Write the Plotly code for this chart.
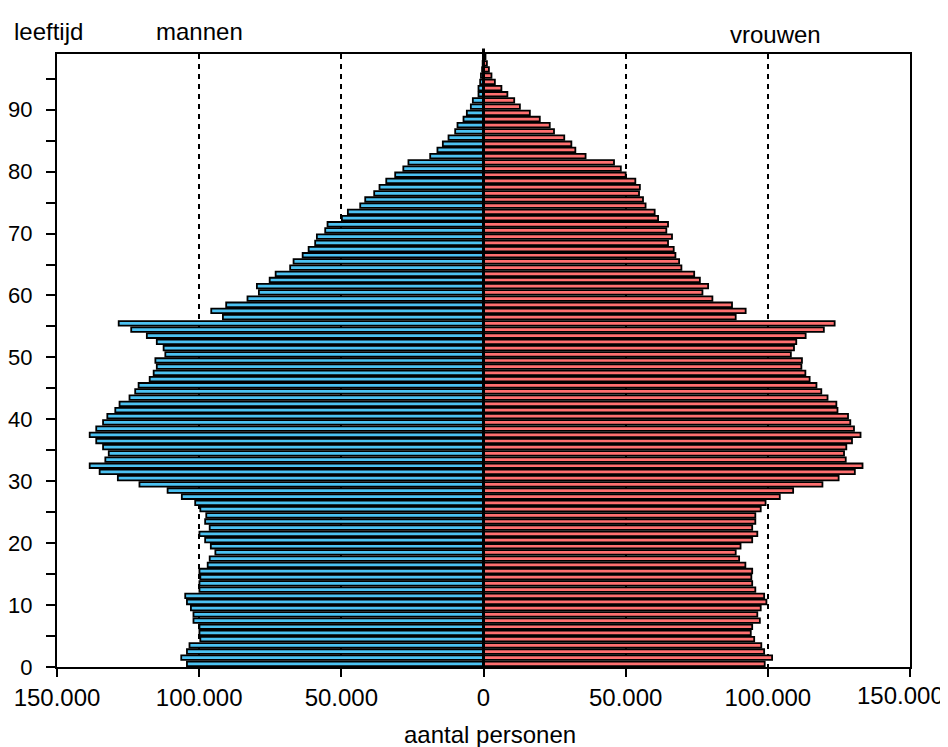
import plotly.graph_objects as go

# ---------------- data ----------------
ages = list(range(0, 99))

men = [104300, 106300, 104300, 103400, 99600, 99900, 99900, 102000, 102000, 102900,
       104300, 104900, 99900, 99900, 99600, 99900, 97000, 96300, 94300, 95900,
       97900, 99900, 96300, 97900, 97500, 99600, 101400, 106100, 111100, 121000,
       128600, 135000, 138500, 133000, 131800, 133800, 136200, 138500, 136200, 133800,
       132300, 129500, 128000, 124500, 122500, 121300, 117400, 116000, 114900, 115400,
       111900, 112500, 114900, 118400, 123900, 128300, 91650, 95750, 90500, 83000,
       79000, 79700, 75200, 73100, 68000, 66800, 63600, 61500, 59200, 58600,
       55670, 54850, 49800, 47700, 43360, 41600, 38440, 36570, 34200, 31060,
       28200, 26400, 18750, 16200, 14300, 12300, 9960, 9140, 7030, 5860,
       4450, 3750, 1760, 1760, 1170, 900, 500, 300, 150]

women = [98900, 101500, 98700, 97700, 95200, 94000, 94500, 97200, 96300, 97500,
         99500, 98700, 95600, 94500, 94200, 94500, 92100, 89900, 88700, 90400,
         94500, 96300, 94500, 95600, 95600, 97500, 99200, 104200, 108900, 119200,
         124900, 130600, 133300, 127400, 126800, 127600, 129600, 132600, 130300, 129000,
         128200, 124500, 124100, 121000, 118800, 117100, 114700, 113200, 111800, 112000,
         108100, 109200, 110000, 113300, 119700, 123500, 88700, 92200, 87400, 80500,
         77000, 79000, 76100, 74100, 69600, 68800, 67500, 66900, 64900, 66300,
         64300, 64900, 61400, 60200, 57000, 56100, 54700, 55000, 53400, 50000,
         48300, 45900, 35900, 32300, 30900, 28400, 24800, 23300, 19800, 16300,
         12800, 10800, 8400, 6300, 4000, 2800, 1900, 1200, 700]

x_tickvals = [-150000, -100000, -50000, 0, 50000, 100000, 150000]
x_ticktext = ["150.000", "100.000", "50.000", "0", "50.000", "100.000", ""]
right_end_label = "150.000"

BLUE = "#4CC2F2"
PINK = "#FF7070"
FONT = "Liberation Sans"

y_pos = [a + 0.5 for a in ages]

fig = go.Figure()
fig.add_trace(go.Bar(
    y=y_pos, x=[-v for v in men], orientation="h", name="mannen",
    marker=dict(color=BLUE, line=dict(color="black", width=1.8)),
))
fig.add_trace(go.Bar(
    y=y_pos, x=women, orientation="h", name="vrouwen",
    marker=dict(color=PINK, line=dict(color="black", width=1.8)),
))

# the page body adds an 8px offset, so the figure is 8px smaller on each axis
fig.update_layout(
    width=940, height=739,
    margin=dict(l=49, r=38, t=46, b=80, autoexpand=False),
    barmode="overlay", bargap=0.27,
    showlegend=False,
    plot_bgcolor="white", paper_bgcolor="white",
    font=dict(family=FONT, color="black"),
    xaxis=dict(
        range=[-150000, 150000],
        tickvals=x_tickvals, ticktext=x_ticktext,
        ticks="outside", ticklen=8, tickwidth=2, tickcolor="black",
        tickfont=dict(size=24, family=FONT, color="black"),
        showline=True, linewidth=2, linecolor="black", mirror=True,
        showgrid=True, gridcolor="black", gridwidth=1.5, griddash="5px,5px",
        zeroline=False,
        ticklabelstandoff=0,
    ),
    yaxis=dict(
        range=[0, 99],
        tick0=0, dtick=10,
        ticks="outside", ticklen=9, tickwidth=2, tickcolor="black",
        minor=dict(dtick=5, tick0=0, ticks="outside", ticklen=9, tickwidth=2, tickcolor="black"),
        tickfont=dict(size=22, family=FONT, color="black"),
        showline=True, linewidth=2, linecolor="black", mirror=True,
        showgrid=False, zeroline=False,
        ticklabelstandoff=9,
    ),
    yaxis2=dict(
        range=[0, 99], overlaying="y", anchor="x", side="left",
        tick0=0, dtick=10,
        ticks="inside", ticklen=6, tickwidth=2, tickcolor="black",
        minor=dict(dtick=5, tick0=0, ticks="inside", ticklen=6, tickwidth=2, tickcolor="black"),
        showticklabels=False, showline=False, showgrid=False, zeroline=False,
    ),
)

# central zero line, extending a little above the frame
fig.add_shape(type="line", xref="x", yref="paper", x0=0, x1=0, y0=0, y1=1.009,
              line=dict(color="black", width=3), layer="above")

ann_font = dict(family=FONT, size=24, color="black")
fig.add_annotation(text="leeftijd", xref="paper", yref="paper", x=-0.053, y=1.037,
                   xanchor="left", yanchor="middle", showarrow=False, font=ann_font)
fig.add_annotation(text="mannen", xref="paper", yref="paper", x=0.1675, y=1.037,
                   xanchor="center", yanchor="middle", showarrow=False, font=ann_font)
fig.add_annotation(text="vrouwen", xref="paper", yref="paper", x=0.842, y=1.031,
                   xanchor="center", yanchor="middle", showarrow=False, font=ann_font)
fig.add_annotation(text="aantal personen", xref="paper", yref="paper", x=0.508, y=-0.11,
                   xanchor="center", yanchor="middle", showarrow=False, font=ann_font)
fig.add_annotation(text=right_end_label, xref="paper", yref="paper", x=1, y=-0.047,
                   xanchor="right", yanchor="middle", xshift=36, showarrow=False,
                   font=ann_font)

fig.write_html("out.html")
